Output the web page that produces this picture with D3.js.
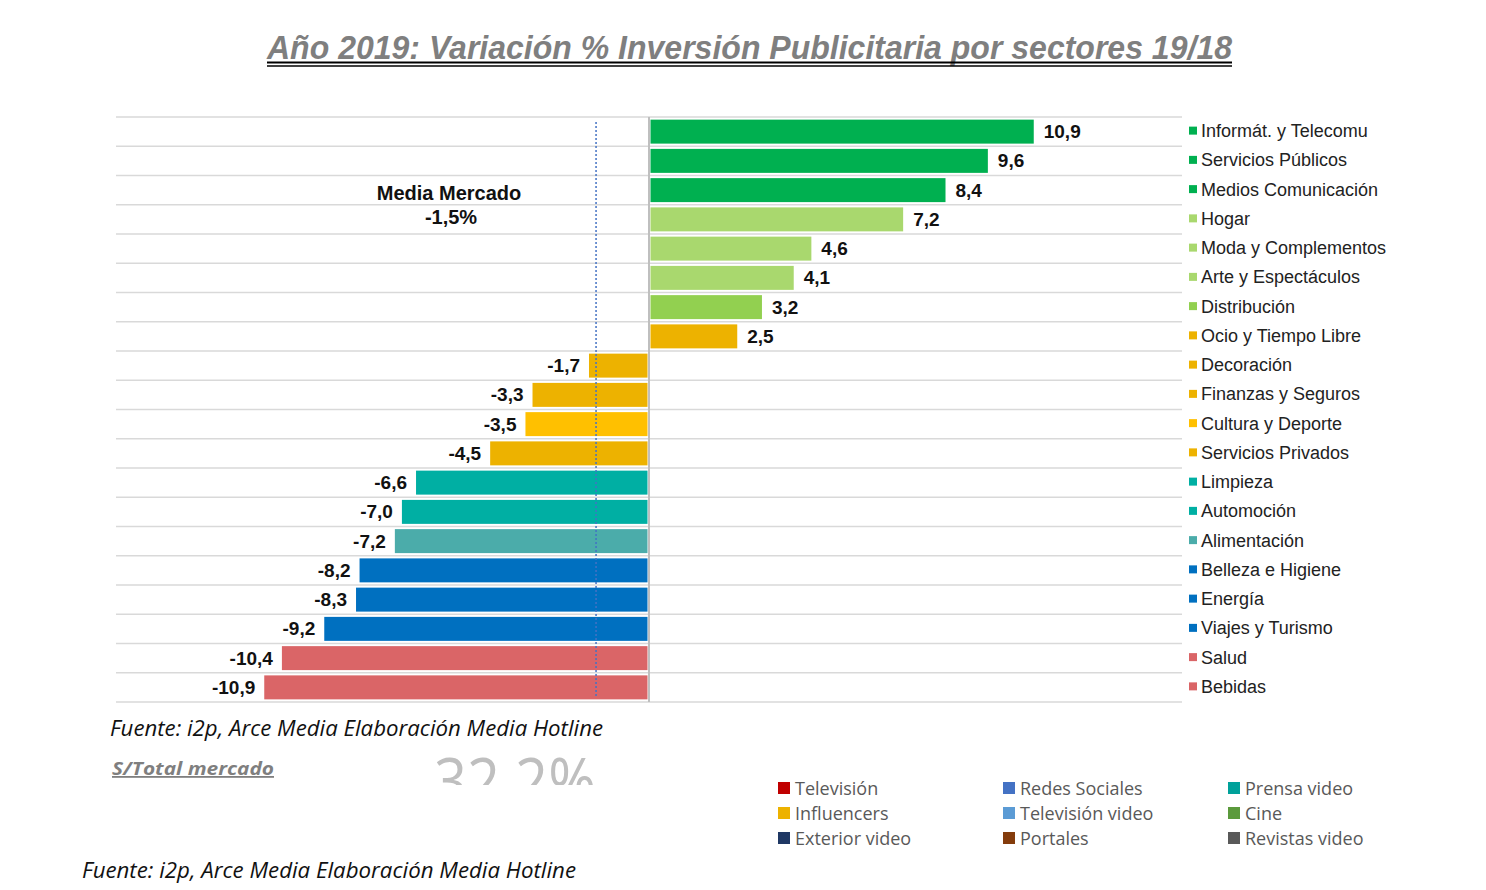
<!DOCTYPE html>
<html><head><meta charset="utf-8">
<script src="https://cdn.jsdelivr.net/npm/d3@7"></script>
<style>body{margin:0;background:#fff}svg{display:block}</style>
</head><body><svg id="c" width="1486" height="890"></svg>
<script>
const categories = ["Informát. y Telecomu","Servicios Públicos","Medios Comunicación","Hogar","Moda y Complementos","Arte y Espectáculos","Distribución","Ocio y Tiempo Libre","Decoración","Finanzas y Seguros","Cultura y Deporte","Servicios Privados","Limpieza","Automoción","Alimentación","Belleza e Higiene","Energía","Viajes y Turismo","Salud","Bebidas"];
const values = [10.9,9.6,8.4,7.2,4.6,4.1,3.2,2.5,-1.7,-3.3,-3.5,-4.5,-6.6,-7.0,-7.2,-8.2,-8.3,-9.2,-10.4,-10.9];
const colors = ["#00B050","#00B050","#00B050","#A9D86E","#A9D86E","#A9D86E","#92D050","#EDB200","#EDB200","#EDB200","#FFC000","#EDB200","#00AFA3","#00AFA3","#4BACAA","#0070C0","#0070C0","#0070C0","#DA6567","#DA6567"];
const mediaMercado = -1.5;
const legend2Labels = ["Televisión","Influencers","Exterior video","Redes Sociales","Televisión video","Portales","Prensa video","Cine","Revistas video"];
const legend2Colors = ["#C00000","#EDB200","#1F3864","#4472C4","#5B9BD5","#843C0C","#00A19A","#5B9A3C","#595959"];

const svg = d3.select("#c");
const fmt = v => d3.format(".1f")(v).replace(".", ",").replace("\u2212", "-");

const x = d3.scaleLinear().domain([-15.1, 15.1]).range([116, 1182]);
const y = d3.scaleBand().domain(categories).range([117, 702]).paddingInner(0.18).paddingOuter(0.09);
const step = y.step();

// title
svg.append("text").attr("x", 267).attr("y", 59)
  .attr("font-family", "'Liberation Sans Narrow','Liberation Sans',Arial,sans-serif")
  .attr("font-weight", "bold").attr("font-style", "italic").attr("font-size", 33)
  .attr("fill", "#7f7f7f").attr("textLength", 965).attr("lengthAdjust", "spacingAndGlyphs")
  .text("Año 2019: Variación % Inversión Publicitaria por sectores 19/18");
svg.append("line").attr("x1", 267).attr("x2", 1232).attr("y1", 62.5).attr("y2", 62.5).attr("stroke", "#000").attr("stroke-width", 2);
svg.append("line").attr("x1", 267).attr("x2", 1232).attr("y1", 66).attr("y2", 66).attr("stroke", "#000").attr("stroke-width", 1.3);

// gridlines (row separators)
const gridY = d3.range(categories.length + 1).map(i => 117 + i * step);
svg.append("g").selectAll("line").data(gridY).join("line")
  .attr("x1", x.range()[0]).attr("x2", x.range()[1])
  .attr("y1", d => d).attr("y2", d => d)
  .attr("stroke", "#d9d9d9").attr("stroke-width", 1.5);

// bars
svg.append("g").selectAll("rect").data(categories).join("rect")
  .attr("x", (d, i) => Math.min(x(0), x(values[i])) + (values[i] > 0 ? 1.5 : 0))
  .attr("width", (d, i) => Math.abs(x(values[i]) - x(0)) - 1.5)
  .attr("y", d => y(d)).attr("height", y.bandwidth())
  .attr("fill", (d, i) => colors[i]);

// zero axis
svg.append("line").attr("x1", x(0)).attr("x2", x(0)).attr("y1", 117).attr("y2", 702)
  .attr("stroke", "#bfbfbf").attr("stroke-width", 2);

// media line
svg.append("line").attr("x1", x(mediaMercado)).attr("x2", x(mediaMercado)).attr("y1", 122).attr("y2", 698)
  .attr("stroke", "#4472C4").attr("stroke-width", 1.5).attr("stroke-dasharray", "2,2");

// value labels
svg.append("g").selectAll("text").data(categories).join("text")
  .attr("x", (d, i) => values[i] >= 0 ? x(values[i]) + 10 : x(values[i]) - 9)
  .attr("y", d => y(d) + y.bandwidth() / 2 + 6.5)
  .attr("text-anchor", (d, i) => values[i] >= 0 ? "start" : "end")
  .attr("font-family", "'Liberation Sans',Arial,sans-serif").attr("font-weight", "bold")
  .attr("font-size", 19).attr("fill", "#111")
  .text((d, i) => fmt(values[i]));

// media mercado label
const mm = svg.append("text").attr("text-anchor", "middle")
  .attr("font-family", "'Liberation Sans',Arial,sans-serif").attr("font-weight", "bold")
  .attr("font-size", 20).attr("fill", "#111");
mm.append("tspan").attr("x", 449).attr("y", 200).text("Media Mercado");
mm.append("tspan").attr("x", 451).attr("y", 224).text(fmt(mediaMercado) + "%");

// right legend
const lg = svg.append("g").selectAll("g").data(categories).join("g")
  .attr("transform", d => `translate(1189,${y(d) + y.bandwidth() / 2 - 1})`);
lg.append("rect").attr("x", 0).attr("y", -4).attr("width", 8).attr("height", 8).attr("fill", (d, i) => colors[i]);
lg.append("text").attr("x", 12).attr("y", 6.5)
  .attr("font-family", "'Liberation Sans',Arial,sans-serif").attr("font-size", 18).attr("fill", "#222")
  .text(d => d);

// footer texts
svg.append("text").attr("x", 110).attr("y", 736)
  .attr("font-family", "'Open Sans',sans-serif").attr("font-style", "italic").attr("font-size", 21)
  .attr("fill", "#111").attr("textLength", 493).attr("lengthAdjust", "spacingAndGlyphs")
  .text("Fuente: i2p, Arce Media Elaboración Media Hotline");
svg.append("text").attr("x", 82).attr("y", 878)
  .attr("font-family", "'Open Sans',sans-serif").attr("font-style", "italic").attr("font-size", 21)
  .attr("fill", "#111").attr("textLength", 494).attr("lengthAdjust", "spacingAndGlyphs")
  .text("Fuente: i2p, Arce Media Elaboración Media Hotline");
svg.append("text").attr("x", 112).attr("y", 775)
  .attr("font-family", "'Open Sans',sans-serif").attr("font-style", "italic").attr("font-weight", "bold")
  .attr("font-size", 18).attr("fill", "#7f7f7f").attr("text-decoration", "underline")
  .attr("textLength", 162).attr("lengthAdjust", "spacingAndGlyphs")
  .text("S/Total mercado");

// clipped large number
svg.append("clipPath").attr("id", "clipBig").append("rect").attr("x", 400).attr("y", 740).attr("width", 250).attr("height", 45);
svg.append("text").attr("x", 434).attr("y", 804).attr("clip-path", "url(#clipBig)")
  .attr("font-family", "'Open Sans',sans-serif").attr("font-size", 64).attr("fill", "#bfbfbf")
  .attr("textLength", 162).attr("lengthAdjust", "spacingAndGlyphs")
  .text("32,2%");

// bottom legend
const cols = [778, 1003, 1228], rows = [788, 813, 838];
const bl = svg.append("g").selectAll("g").data(legend2Labels).join("g")
  .attr("transform", (d, i) => `translate(${cols[Math.floor(i / 3)]},${rows[i % 3]})`);
bl.append("rect").attr("x", 0).attr("y", -6).attr("width", 12).attr("height", 12).attr("fill", (d, i) => legend2Colors[i]);
bl.append("text").attr("x", 17).attr("y", 7)
  .attr("font-family", "'Open Sans',sans-serif").attr("font-size", 18).attr("fill", "#595959")
  .text(d => d);
</script></body></html>
